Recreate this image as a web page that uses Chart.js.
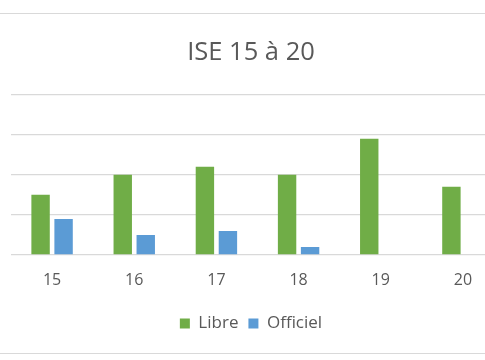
<!DOCTYPE html>
<html>
<head>
<meta charset="utf-8">
<script src="https://cdn.jsdelivr.net/npm/chart.js@4/dist/chart.umd.min.js"></script>
<style>
  html, body { margin: 0; padding: 0; width: 485px; height: 360px; overflow: hidden; background: #fff; }
  #frame { position: absolute; left: 0; top: 13px; width: 485px; height: 341px;
           border-top: 1px solid #d9d9d9; border-bottom: 1px solid #d9d9d9; box-sizing: border-box; }
  #c { position: absolute; left: -2px; top: 0; }
</style>
</head>
<body>
<div id="frame"></div>
<canvas id="c" width="506" height="360"></canvas>
<script>
const categories = ['15', '16', '17', '18', '19', '20'];
const libre = [15, 20, 22, 20, 29, 17];
const officiel = [9, 5, 6, 2, 0, 0];
const seriesNames = ['Libre', 'Officiel'];
const titleText = 'ISE 15 à 20';

const textColor = '#595959';
const fontFamily = '"Open Sans", sans-serif';

new Chart(document.getElementById('c'), {
  type: 'bar',
  data: {
    labels: categories,
    datasets: [
      { label: seriesNames[0], data: libre, backgroundColor: '#70AD47',
        categoryPercentage: 0.56, barPercentage: 0.8 },
      { label: seriesNames[1], data: officiel, backgroundColor: '#5B9BD5',
        categoryPercentage: 0.56, barPercentage: 0.8 }
    ]
  },
  options: {
    responsive: false,
    animation: false,
    layout: { padding: { top: 0, bottom: 18, left: 0, right: 0 } },
    plugins: {
      title: {
        display: true, text: titleText, color: textColor,
        font: { family: fontFamily, size: 25.5, weight: 'normal' },
        padding: { top: 37, bottom: 27 }
      },
      legend: {
        position: 'bottom',
        labels: {
          color: textColor, boxWidth: 10, boxHeight: 10, padding: 10,
          font: { family: fontFamily, size: 17 }
        }
      },
      tooltip: { enabled: false }
    },
    scales: {
      x: {
        grid: { display: false, drawTicks: false },
        border: { display: false },
        ticks: { color: textColor, font: { family: fontFamily, size: 16 }, padding: 16 },
        afterFit: (s) => { s.height = 50; }
      },
      y: {
        min: 0, max: 40,
        ticks: { display: false, stepSize: 10 },
        grid: { color: '#d9d9d9', lineWidth: 1.3, drawTicks: false },
        border: { display: false },
        afterFit: (s) => { s.width = 13; }
      }
    }
  }
});
</script>
</body>
</html>
